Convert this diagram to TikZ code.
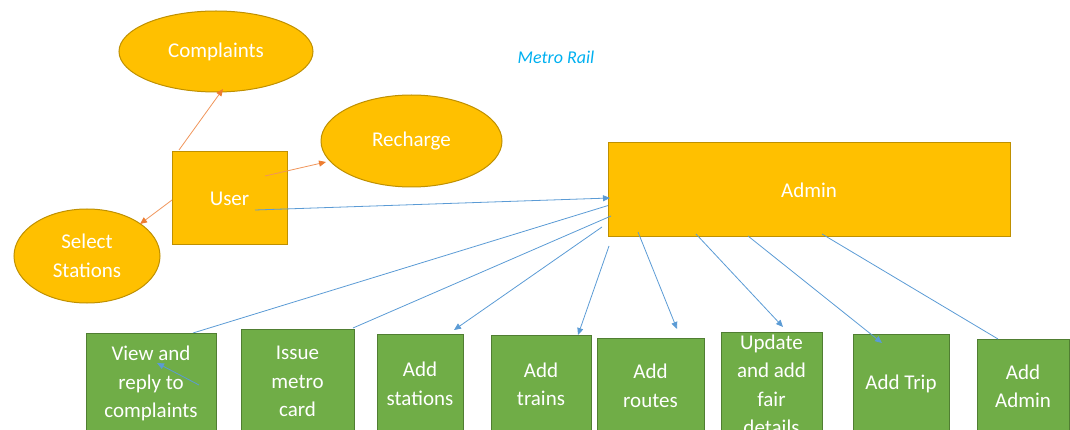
\documentclass[tikz,border=0pt]{standalone}
\usepackage{fontspec}
\setmainfont{Carlito}
\usetikzlibrary{shapes.geometric,arrows.meta}

\definecolor{gold}{HTML}{FFC000}
\definecolor{goldedge}{HTML}{BF9000}
\definecolor{grn}{HTML}{70AD47}
\definecolor{grnedge}{HTML}{507E32}
\definecolor{orangeline}{HTML}{F0955A}
\definecolor{orangehead}{HTML}{ED7D31}
\definecolor{blueline}{HTML}{5B9BD5}
\definecolor{titleblue}{HTML}{00B0F0}

\tikzset{
  labelfont/.style={font=\fontsize{21}{28.5}\selectfont},
  usecase/.style={ellipse, draw=goldedge, fill=gold, line width=1pt,
    text=white, inner sep=0pt, align=center, labelfont},
  actor/.style={rectangle, draw=goldedge, fill=gold, line width=1pt,
    text=white, inner sep=0pt, align=center, labelfont},
  task/.style={rectangle, draw=grnedge, fill=grn, line width=1pt,
    text=white, inner sep=0pt, align=center, labelfont},
  userlink/.style={draw=orangeline, line width=0.8pt,
    -{Triangle[length=7pt,width=6pt,color=orangehead]}},
  adminlink/.style={draw=blueline, line width=0.8pt,
    -{Triangle[length=7pt,width=6pt]}},
  plainlink/.style={draw=blueline, line width=0.8pt},
}

\begin{document}
\begin{tikzpicture}[x=1pt,y=-1pt]
\useasboundingbox (0,0) rectangle (1070,430);

% title
\node[text=titleblue, font=\fontsize{18}{22}\selectfont\itshape] (title) at (556,57) {Metro Rail};

% anchor points of the connectors
\coordinate (uc) at (179,150);  \coordinate (uct) at (223,89);
\coordinate (ur) at (265,176);  \coordinate (urt) at (326,162);
\coordinate (us) at (172,200);  \coordinate (ust) at (140,224);
\coordinate (ua) at (255,210);  \coordinate (uat) at (610,198);
\coordinate (av) at (613,204);  \coordinate (avt) at (193,333);
\coordinate (vin) at (199,385); \coordinate (vint) at (157,363);
\coordinate (ai) at (611,216);  \coordinate (ait) at (353,328);
\coordinate (as) at (602,227);  \coordinate (ast) at (454,330);
\coordinate (at) at (609,246);  \coordinate (att) at (578,335);
\coordinate (ar) at (638,232);  \coordinate (art) at (677,329);
\coordinate (af) at (696,234);  \coordinate (aft) at (783,327);
\coordinate (ap) at (748,236);  \coordinate (apt) at (882,343);
\coordinate (aa) at (822,234);  \coordinate (aat) at (998,339);

% line to the complaints box runs underneath it
\draw[plainlink] (av) -- (avt);

% use cases of the user
\node[usecase, minimum width=194, minimum height=81] (complaints) at (216,51.5) {Complaints};
\node[usecase, minimum width=181, minimum height=92] (recharge) at (411.5,141) {Recharge};
\node[usecase, minimum width=146, minimum height=94] (select) at (87,256) {Select\\Stations};

% actors
\node[actor, minimum width=115, minimum height=93] (user) at (229.5,198.5) {User};
\node[actor, minimum width=402, minimum height=94] (admin) at (809,190) {Admin};

% admin tasks
\node[task, minimum width=130, minimum height=101] (view) at (151,383.5) {View and\\reply to\\complaints};
\node[task, minimum width=113, minimum height=105] (issue) at (297.5,381.5) {Issue\\metro\\card};
\node[task, minimum width=86, minimum height=100] (stations) at (420,384) {Add\\stations};
\node[task, minimum width=100, minimum height=99] (trains) at (541,384.5) {Add\\trains};
\node[task, minimum width=107, minimum height=96] (routes) at (650.5,386) {Add\\routes};
\node[task, minimum width=101, minimum height=106] (fare) at (771.5,385) {Update\\and add\\fair\\details};
\node[task, minimum width=96, minimum height=100] (trip) at (901,384) {Add Trip};
\node[task, minimum width=92, minimum height=95] (addadmin) at (1023,386.5) {Add\\Admin};

% user connectors
\draw[userlink] (uc) -- (uct);
\draw[userlink] (ur) -- (urt);
\draw[userlink] (us) -- (ust);
\draw[adminlink] (ua) -- (uat);

% admin connectors
\draw[adminlink] (vin) -- (vint);
\draw[plainlink] (ai) -- (ait);
\draw[adminlink] (as) -- (ast);
\draw[adminlink] (at) -- (att);
\draw[adminlink] (ar) -- (art);
\draw[adminlink] (af) -- (aft);
\draw[adminlink] (ap) -- (apt);
\draw[plainlink] (aa) -- (aat);
\end{tikzpicture}
\end{document}
